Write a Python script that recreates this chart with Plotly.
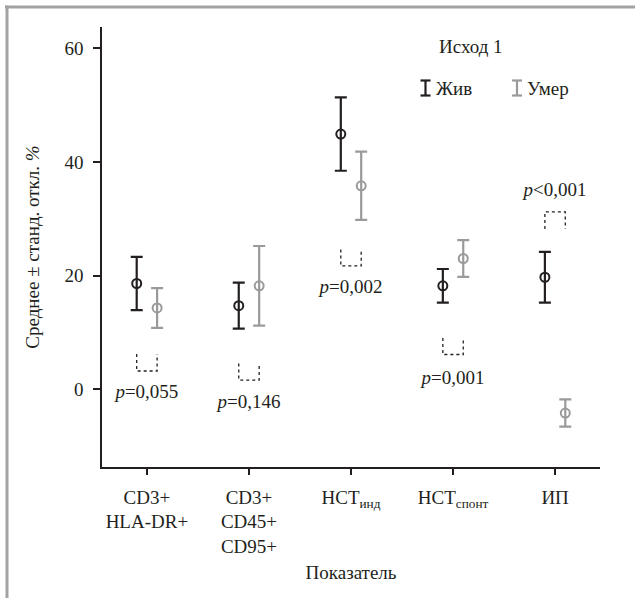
import plotly.graph_objects as go

# ---- data ----
categories = ["CD3+<br>HLA-DR+", "CD3+<br>CD45+<br>CD95+", "НСТ<sub>инд</sub>",
              "НСТ<sub>спонт</sub>", "ИП"]
alive_mean = [18.6, 14.7, 44.9, 18.2, 19.7]
alive_sd = [4.7, 4.05, 6.45, 2.95, 4.45]
dead_mean = [14.3, 18.2, 35.8, 23.0, -4.2]
dead_sd = [3.5, 7.0, 6.0, 3.25, 2.4]
p_labels = ["<i>p</i>=0,055", "<i>p</i>=0,146", "<i>p</i>=0,002",
            "<i>p</i>=0,001", "<i>p</i>&lt;0,001"]
bracket_hi = [6.2, 4.5, 24.6, 9.0, 31.2]
bracket_lo = [3.2, 1.6, 21.7, 6.1, 28.2]
bracket_open_up = [True, True, True, True, False]
p_label_y = [-0.8, -2.4, 17.7, 1.7, 34.9]
y_ticks = [0, 20, 40, 60]

# ---- styling ----
W, H = 635, 598
ML, MR, MT, MB = 102, 35, 27, 131
PW, PH = W - ML - MR, H - MT - MB
FONT = "Liberation Serif"
BLACK = "#231f20"
GRAY = "#9a9a9a"
OFF = 0.1


def px(xp):
    return (xp - ML) / PW


def py(yp):
    return (H - MB - yp) / PH


idx = list(range(len(categories)))
fig = go.Figure()

fig.add_trace(go.Scatter(
    x=[i - OFF for i in idx], y=alive_mean, mode="markers", name="Жив",
    marker=dict(symbol="circle-open", size=9, color=BLACK, line=dict(width=2, color=BLACK)),
    error_y=dict(type="data", array=alive_sd, color=BLACK, thickness=2.2, width=6),
    showlegend=False))
fig.add_trace(go.Scatter(
    x=[i + OFF for i in idx], y=dead_mean, mode="markers", name="Умер",
    marker=dict(symbol="circle-open", size=9, color=GRAY, line=dict(width=2, color=GRAY)),
    error_y=dict(type="data", array=dead_sd, color=GRAY, thickness=2.2, width=6),
    showlegend=False))

# dotted brackets
bx, by = [], []
for i, hi, lo, up in zip(idx, bracket_hi, bracket_lo, bracket_open_up):
    a, b = (hi, lo) if up else (lo, hi)
    bx += [i - OFF, i - OFF, i + OFF, i + OFF, None]
    by += [a, b, b, a, None]
fig.add_trace(go.Scatter(x=bx, y=by, mode="lines", showlegend=False,
                         line=dict(color=BLACK, width=1.3, dash="dot"), hoverinfo="skip"))

# p-value labels
fig.add_trace(go.Scatter(x=idx, y=p_label_y, mode="text", text=p_labels, showlegend=False,
                         textfont=dict(family=FONT, size=19, color=BLACK), hoverinfo="skip"))

shapes = []
# outer frame (top and left)
shapes.append(dict(type="line", xref="paper", yref="paper", x0=px(5), x1=px(W + 2),
                   y0=py(7), y1=py(7), line=dict(color="#a3a3a3", width=3)))
shapes.append(dict(type="line", xref="paper", yref="paper", x0=px(7), x1=px(7),
                   y0=py(5.5), y1=py(H + 2), line=dict(color="#a3a3a3", width=3)))

annotations = []
# legend
annotations.append(dict(xref="paper", yref="paper", x=px(471), y=py(47), text="Исход 1",
                        xanchor="center", yanchor="middle", showarrow=False,
                        font=dict(family=FONT, size=19, color=BLACK)))
for sx, label, col in [(425.5, "Жив", BLACK), (517, "Умер", GRAY)]:
    shapes.append(dict(type="line", xref="paper", yref="paper", x0=px(sx), x1=px(sx),
                       y0=py(80.5), y1=py(95.5), line=dict(color=col, width=2.2)))
    for yy in (80.5, 95.5):
        shapes.append(dict(type="line", xref="paper", yref="paper", x0=px(sx - 5), x1=px(sx + 5),
                           y0=py(yy), y1=py(yy), line=dict(color=col, width=2.2)))
    annotations.append(dict(xref="paper", yref="paper", x=px(sx + 8), y=py(88), text=label,
                            xanchor="left", yanchor="middle", showarrow=False,
                            font=dict(family=FONT, size=19, color=BLACK)))

fig.update_layout(
    width=W, height=H,
    margin=dict(l=ML, r=MR, t=MT, b=MB),
    paper_bgcolor="white", plot_bgcolor="white",
    font=dict(family=FONT, size=19, color=BLACK),
    shapes=shapes, annotations=annotations,
    xaxis=dict(range=[-0.44, 4.44], tickmode="array", tickvals=idx, ticktext=categories,
               showgrid=False, zeroline=False, showline=True, linecolor=BLACK, linewidth=1.5,
               ticks="outside", ticklen=6, tickwidth=1.5, tickcolor=BLACK,
               tickfont=dict(family=FONT, size=19, color=BLACK), ticklabelstandoff=6,
               title=dict(text="Показатель", standoff=10,
                          font=dict(family=FONT, size=19, color=BLACK))),
    yaxis=dict(range=[-13.7, 63.75], tickmode="array", tickvals=y_ticks,
               showgrid=False, zeroline=False, showline=True, linecolor=BLACK, linewidth=1.5,
               ticks="outside", ticklen=7, tickwidth=1.5, tickcolor=BLACK,
               tickfont=dict(family=FONT, size=19, color=BLACK), ticklabelstandoff=6,
               title=dict(text="Среднее ± станд. откл. <i>%</i>", standoff=20,
                          font=dict(family=FONT, size=19, color=BLACK))),
)

fig.write_html("out.html")
